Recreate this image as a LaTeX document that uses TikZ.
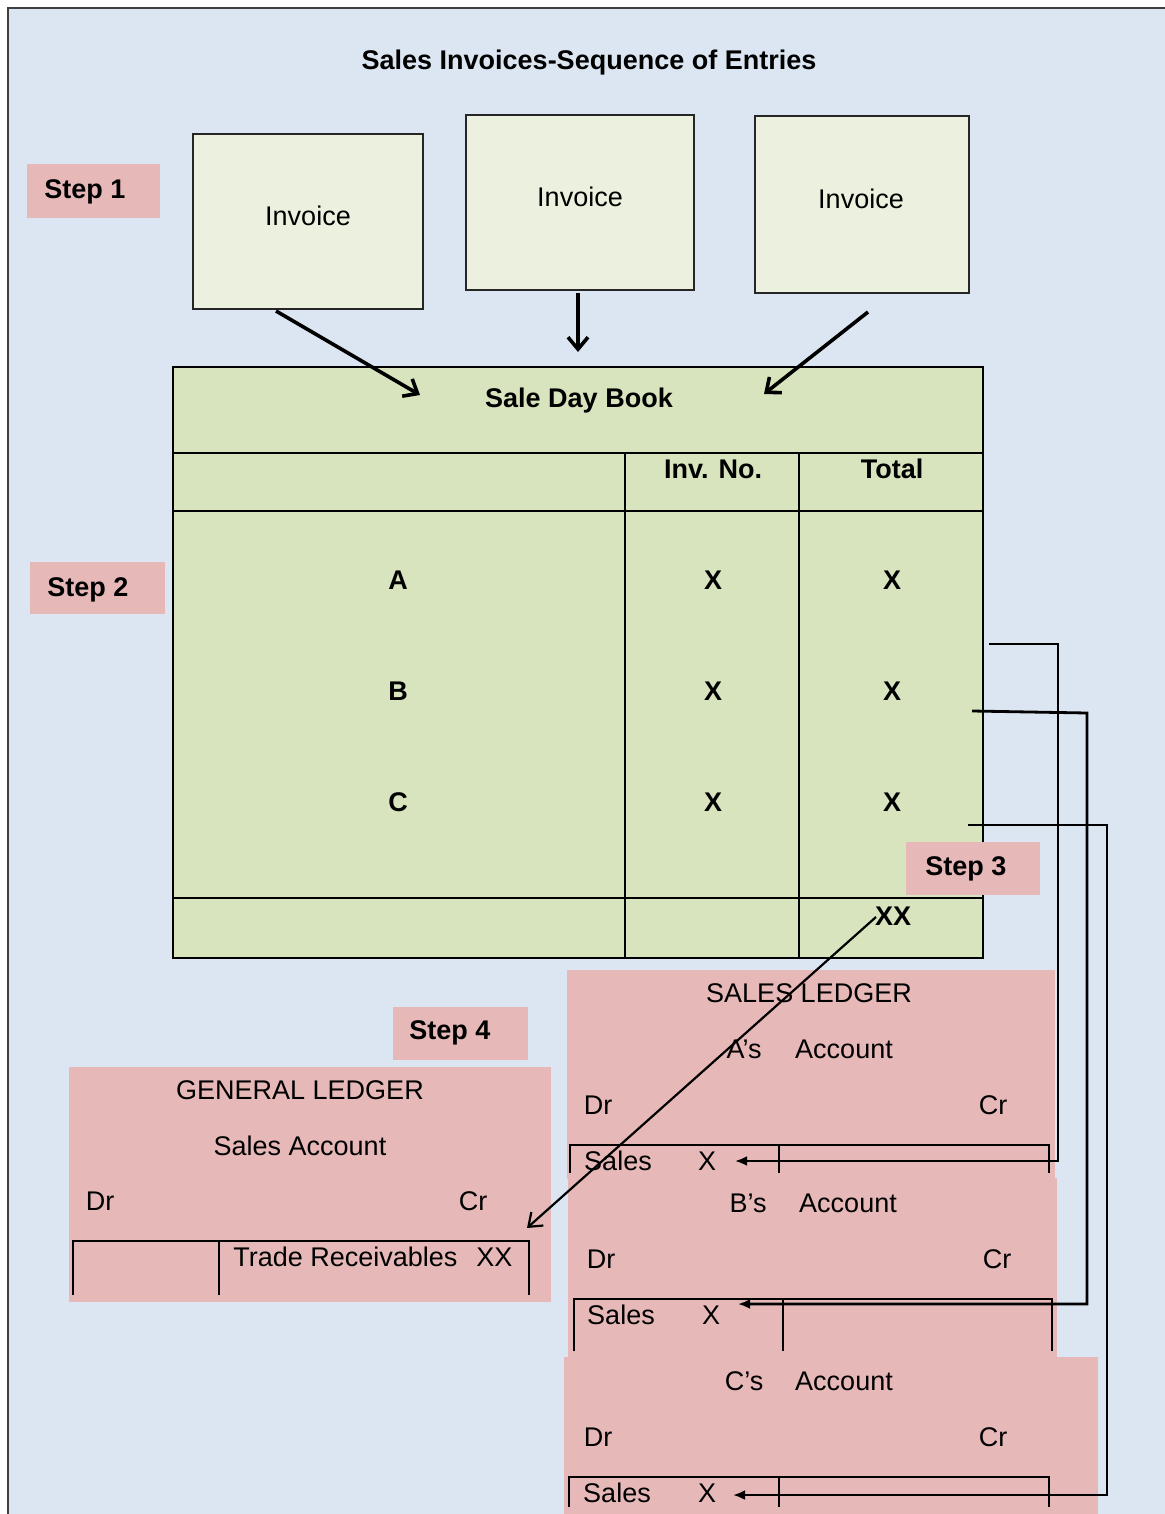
\documentclass[tikz,border=0pt]{standalone}
\usepackage{fontspec}
\setmainfont{Liberation Sans}
\usetikzlibrary{arrows.meta,fit}
\definecolor{bgblue}{HTML}{DCE6F2}
\definecolor{steppink}{HTML}{E6B9B8}
\definecolor{invfill}{HTML}{EBF1DE}
\definecolor{bookfill}{HTML}{D7E4BD}
\definecolor{framegray}{HTML}{3F3F3F}
\newcommand\basefont{\fontsize{13.5}{16}\selectfont}
\begin{document}
\begin{tikzpicture}[x=0.5pt,y=-0.5pt,
  txt/.style={inner sep=0pt, font=\basefont},
  btxt/.style={inner sep=0pt, font=\basefont\bfseries},
  htxt/.style={btxt, yshift=-1.2pt},
  stepbox/.style={fill=steppink, inner sep=0pt},
  invbox/.style={draw=black!85, line width=1.3pt, fill=invfill, inner sep=0pt},
  bookbox/.style={draw=black, line width=1.2pt, fill=bookfill, inner sep=0pt},
  panel/.style={fill=steppink, inner sep=0pt},
  grid/.style={line width=1.2pt},
  tacc/.style={line width=1pt},
  feed/.style={line width=1.8pt, -{Straight Barb[length=6pt,width=10pt,line width=1.8pt]}},
  post/.style={line width=1.4pt, -{Latex[length=6pt,width=5pt]}},
  total/.style={line width=1.1pt, -{Straight Barb[length=6pt,width=9pt,line width=1.1pt]}}]

\useasboundingbox (0,0) rectangle (1165,1514);
\fill[white] (0,0) rectangle (1165,1514);
\fill[bgblue] (8,8) rectangle (1165,1514);
\draw[framegray, line width=1.1pt] (8,1514) -- (8,8) -- (1165,8);

% title
\node[htxt] (title) at (589,60) {Sales Invoices-Sequence of Entries};

% step 1: invoices
\node[stepbox, fit={(27,164) (160,218)}] (s1) {};
\node[htxt, anchor=west] (s1t) at (44,189) {Step 1};
\node[invbox, fit={(193,134) (423,309)}] (inv1) {};
\node[invbox, fit={(466,115) (694,290)}] (inv2) {};
\node[invbox, fit={(755,116) (969,293)}] (inv3) {};
\node[txt] (inv1t) at (308,216) {Invoice};
\node[txt] (inv2t) at (580,197) {Invoice};
\node[txt] (inv3t) at (861,199) {Invoice};

% step 2: sale day book
\node[bookbox, fit={(173,367) (983,958)}] (sdb) {};
\draw[grid] (173,453) -- (983,453);
\draw[grid] (173,511) -- (983,511);
\draw[grid] (173,898) -- (983,898);
\draw[grid] (625,453) -- (625,958);
\draw[grid] (799,453) -- (799,958);
\node[htxt] (sdbt) at (579,398) {Sale Day Book};
\node[btxt] (hinv) at (713,469) {Inv. No.};
\node[btxt] (htot) at (892,469) {Total};
\node[btxt] (ra) at (398,580) {A};
\node[btxt] (rb) at (398,691) {B};
\node[btxt] (rc) at (398,802) {C};
\node[btxt] (ia) at (713,580) {X};
\node[btxt] (ib) at (713,691) {X};
\node[btxt] (ic) at (713,802) {X};
\node[btxt] (ta) at (892,580) {X};
\node[btxt] (tb) at (892,691) {X};
\node[btxt] (tc) at (892,802) {X};
\node[btxt] (tt) at (893,916) {XX};
\node[stepbox, fit={(30,562) (165,614)}] (s2) {};
\node[htxt, anchor=west] (s2t) at (47,587) {Step 2};

% invoices flow into the day book
\coordinate (f1s) at (276,311);
\coordinate (f1e) at (420,395);
\coordinate (f2s) at (578,293);
\coordinate (f2e) at (578,352);
\coordinate (f3s) at (868,312);
\coordinate (f3e) at (764,394);
\draw[feed] (f1s) -- (f1e);
\draw[feed] (f2s) -- (f2e);
\draw[feed] (f3s) -- (f3e);

% step 3: sales ledger
\node[stepbox, fit={(906,842) (1040,895)}] (s3) {};
\node[htxt, anchor=west] (s3t) at (925,866) {Step 3};
\node[panel, fit={(567,970) (1055,1179)}] (pa) {};
\node[panel, fit={(568,1178) (1057,1358)}] (pb) {};
\node[panel, fit={(564,1357) (1098,1514)}] (pc) {};

\node[txt] (slt) at (809,993) {SALES LEDGER};
\node[txt] (an) at (744,1049) {A’s};
\node[txt] (aa) at (844,1049) {Account};
\node[txt] (adr) at (598,1105) {Dr};
\node[txt] (acr) at (993,1105) {Cr};
\draw[tacc] (570,1173) -- (570,1145) -- (1049,1145) -- (1049,1173);
\draw[tacc] (779,1145) -- (779,1173);
\node[txt] (asl) at (618,1161) {Sales};
\node[txt] (ax) at (707,1161) {X};

\node[txt] (bn) at (748,1203) {B’s};
\node[txt] (ba) at (848,1203) {Account};
\node[txt] (bdr) at (601,1259) {Dr};
\node[txt] (bcr) at (997,1259) {Cr};
\draw[tacc] (574,1351) -- (574,1299) -- (1052,1299) -- (1052,1351);
\draw[tacc] (783,1299) -- (783,1351);
\node[txt] (bsl) at (621,1315) {Sales};
\node[txt] (bx) at (711,1315) {X};

\node[txt] (cn) at (744,1381) {C’s};
\node[txt] (ca) at (844,1381) {Account};
\node[txt] (cdr) at (598,1437) {Dr};
\node[txt] (ccr) at (993,1437) {Cr};
\draw[tacc] (569,1507) -- (569,1477) -- (1049,1477) -- (1049,1507);
\draw[tacc] (779,1477) -- (779,1507);
\node[txt] (csl) at (617,1493) {Sales};
\node[txt] (cx) at (707,1493) {X};

% step 4: general ledger
\node[stepbox, fit={(393,1007) (528,1060)}] (s4) {};
\node[htxt, anchor=west] (s4t) at (409,1030) {Step 4};
\node[panel, fit={(69,1067) (551,1302)}] (pg) {};
\node[txt] (glt) at (300,1090) {GENERAL LEDGER};
\node[txt] (gsa) at (300,1146) {Sales Account};
\node[txt] (gdr) at (100,1201) {Dr};
\node[txt] (gcr) at (473,1201) {Cr};
\draw[tacc] (73,1295) -- (73,1241) -- (529,1241) -- (529,1295);
\draw[tacc] (219,1241) -- (219,1295);
\node[txt, anchor=west] (gtr) at (233,1257) {Trade Receivables\hspace{9.5pt}XX};

% postings from the day book totals to the personal accounts
\coordinate (pas) at (989,644);
\coordinate (pat) at (735,1161);
\coordinate (pbs) at (972,711);
\coordinate (pbt) at (738,1304);
\coordinate (pcs) at (968,825);
\coordinate (pct) at (733,1495);
\draw[post] (pas) -- (1058,644) -- (1058,1161) -- (pat);
\draw[post] (pbs) -- (1087,713) -- (1087,1304) -- (pbt);
\draw[post] (pcs) -- (1107,825) -- (1107,1495) -- (pct);

% total posted to the sales account
\coordinate (gts) at (876,917);
\coordinate (gte) at (527,1228);
\draw[total] (gts) -- (gte);
\end{tikzpicture}
\end{document}
